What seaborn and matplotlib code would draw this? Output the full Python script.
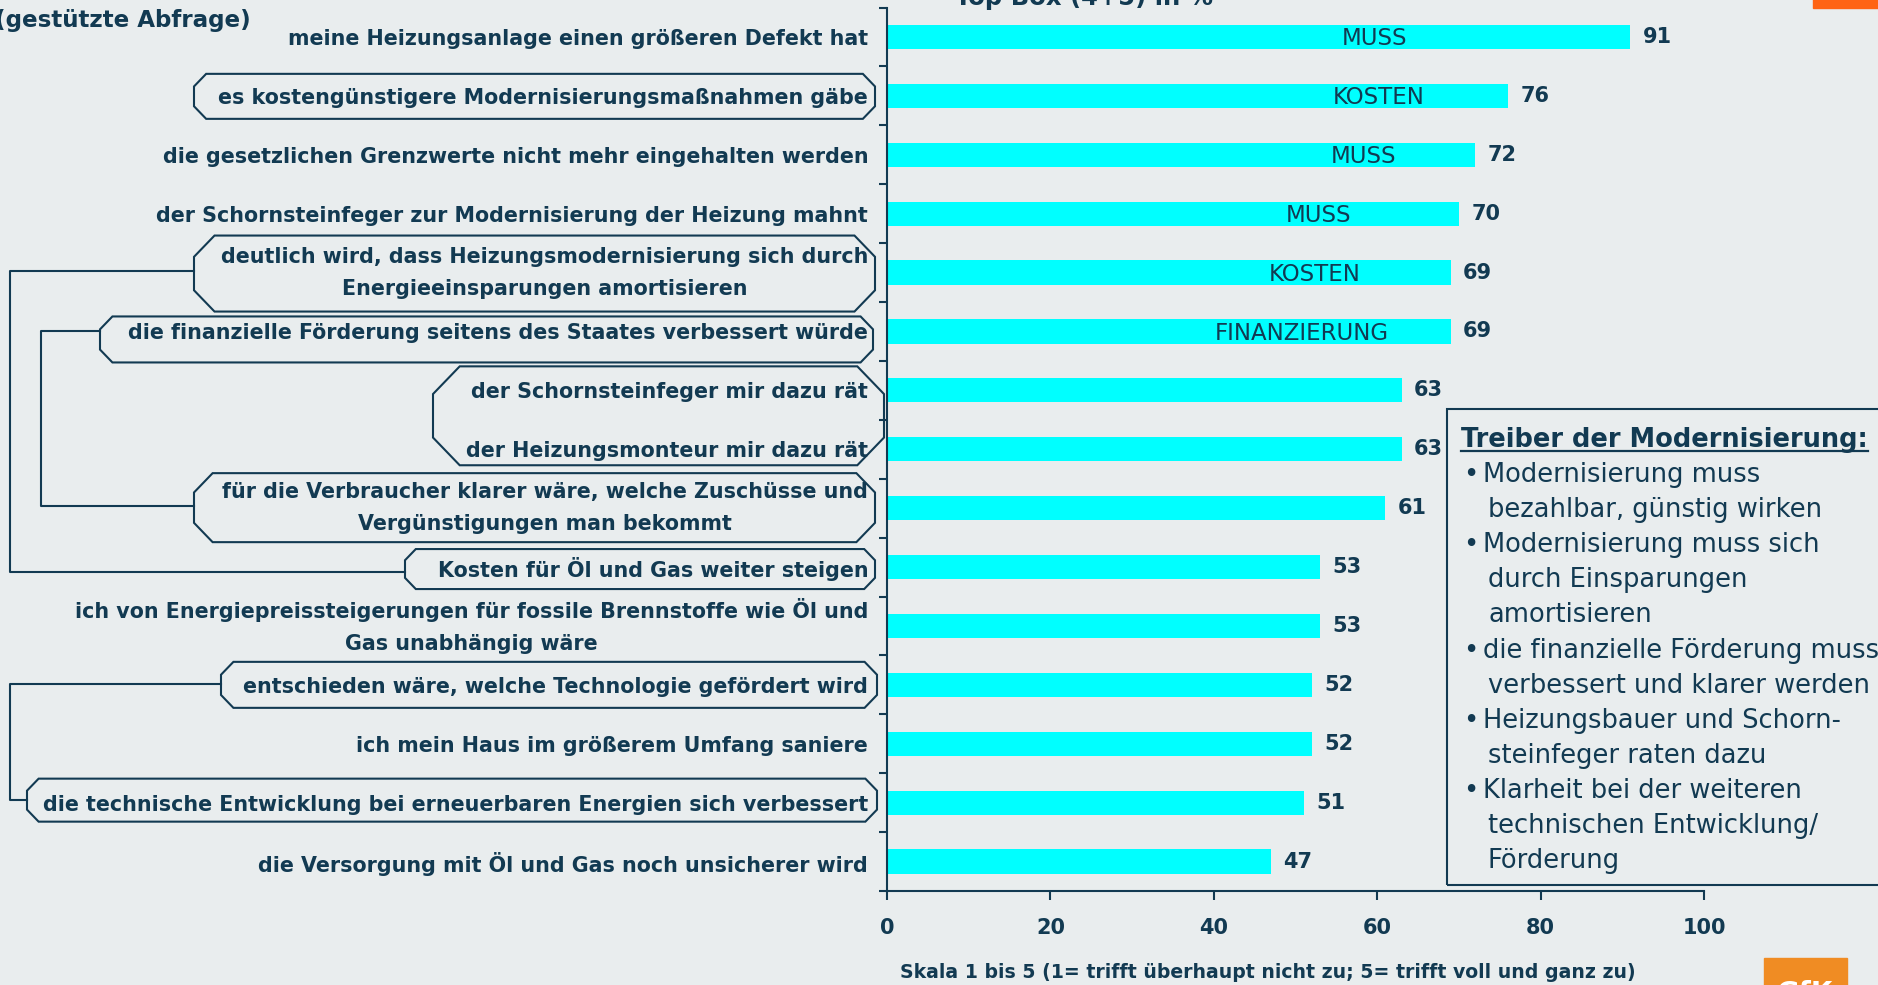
import numpy as np
import pandas as pd
import matplotlib
matplotlib.use('Agg')
import matplotlib.pyplot as plt
import seaborn as sns
from matplotlib.patches import Polygon, Rectangle
from matplotlib.lines import Line2D
from matplotlib.transforms import IdentityTransform

# data (Top Box 4+5 in %)
labels = [
    "meine Heizungsanlage einen größeren Defekt hat",
    "es kostengünstigere Modernisierungsmaßnahmen gäbe",
    "die gesetzlichen Grenzwerte nicht mehr eingehalten werden",
    "der Schornsteinfeger zur Modernisierung der Heizung mahnt",
    "deutlich wird, dass Heizungsmodernisierung sich durch\nEnergieeinsparungen amortisieren",
    "die finanzielle Förderung seitens des Staates verbessert würde",
    "der Schornsteinfeger mir dazu rät",
    "der Heizungsmonteur mir dazu rät",
    "für die Verbraucher klarer wäre, welche Zuschüsse und\nVergünstigungen man bekommt",
    "Kosten für Öl und Gas weiter steigen",
    "ich von Energiepreissteigerungen für fossile Brennstoffe wie Öl und\nGas unabhängig wäre",
    "entschieden wäre, welche Technologie gefördert wird",
    "ich mein Haus im größerem Umfang saniere",
    "die technische Entwicklung bei erneuerbaren Energien sich verbessert",
    "die Versorgung mit Öl und Gas noch unsicherer wird",
]
values = [91, 76, 72, 70, 69, 69, 63, 63, 61, 53, 53, 52, 52, 51, 47]

bar_tags = ["MUSS", "KOSTEN", "MUSS", "MUSS", "KOSTEN", "FINANZIERUNG"]
tag_x = [59.7, 60.2, 58.3, 52.8, 52.4, 50.8]

box_title = "Treiber der Modernisierung:"
box_lines = [
    (True, "Modernisierung muss"),
    (False, "bezahlbar, günstig wirken"),
    (True, "Modernisierung muss sich"),
    (False, "durch Einsparungen"),
    (False, "amortisieren"),
    (True, "die finanzielle Förderung muss"),
    (False, "verbessert und klarer werden"),
    (True, "Heizungsbauer und Schorn-"),
    (False, "steinfeger raten dazu"),
    (True, "Klarheit bei der weiteren"),
    (False, "technischen Entwicklung/"),
    (False, "Förderung"),
]

df = pd.DataFrame({'label': labels, 'value': values})

BG = '#E9EDEE'
NAVY = '#123A52'
CYAN = '#00FFFF'
W, H = 1878, 985
ID = IdentityTransform()

plt.rcParams['font.family'] = 'DejaVu Sans'
plt.rcParams['text.color'] = NAVY

fig = plt.figure(figsize=(W / 100, H / 100), dpi=100, facecolor=BG)
ax = fig.add_axes([887 / W, 94 / H, 817 / W, 883.5 / H])
ax.set_facecolor(BG)

sns.barplot(data=df, x='value', y='label', orient='h', color=CYAN,
            saturation=1, width=0.41, ax=ax)

ax.set_xlim(0, 100)
ax.set_ylim(14.5, -0.5)
ax.set_xlabel('')
ax.set_ylabel('')
ax.set_xticks(range(0, 101, 20))
for s in ['top', 'right']:
    ax.spines[s].set_visible(False)
for s in ['left', 'bottom']:
    ax.spines[s].set_color(NAVY)
    ax.spines[s].set_linewidth(1.5)

ax.tick_params(axis='x', length=6.5, width=1.5, color=NAVY, pad=13,
               labelsize=15, labelcolor=NAVY)
for t in ax.get_xticklabels():
    t.set_fontweight('bold')
ax.tick_params(axis='y', which='major', length=0, pad=13.5,
               labelsize=14.9, labelcolor=NAVY)
ax.set_yticks(np.arange(-0.5, 15, 1), minor=True)
ax.tick_params(axis='y', which='minor', length=6, width=1.5, color=NAVY)
for t in ax.get_yticklabels():
    t.set_fontweight('bold')
    t.set_multialignment('center')
    t.set_linespacing(1.75)
    if '\n' in t.get_text():
        t.set_verticalalignment('center')

ax.bar_label(ax.containers[0], padding=9, fontsize=15, fontweight='bold', color=NAVY)

for i, (tag, xt) in enumerate(zip(bar_tags, tag_x)):
    ax.text(xt, i + 0.03, tag, ha='center', va='center', fontsize=16.5, color=NAVY)


def row_y(r):
    # pixel y (from top) of a category row
    return H - ax.transData.transform((0, r))[1]


def P(x, y):
    return (x, H - y)


# callout boxes round some labels: (left, right, top row, up, bottom row, down)
boxes = [
    (194, 875, 1, 22, 1, 23),
    (194, 875, 4, 37, 4, 39),
    (100, 873, 5, 15, 5, 31),
    (433, 884, 6, 24, 7, 16),
    (194, 875, 8, 35, 8, 34),
    (405, 875, 9, 18, 9, 22),
    (221, 877, 11, 23, 11, 23),
    (27, 877, 13, 24, 13, 19),
]
for L, R, r0, up, r1, dn in boxes:
    top = row_y(r0) - up
    bot = row_y(r1) + dn
    h = bot - top
    cx, cy = 0.27 * h, 0.28 * h
    pts = [P(L + cx, top), P(R - cx, top), P(R, top + cy), P(R, bot - cy),
           P(R - cx, bot), P(L + cx, bot), P(L, bot - cy), P(L, top + cy)]
    fig.add_artist(Polygon(pts, closed=True, fill=False, edgecolor=NAVY,
                           lw=1.5, transform=ID))

# brackets linking related boxes
links = [
    (10, 4, -2, 194, 9, 5, 405),
    (41, 5, 0, 100, 8, -2, 194),
    (10, 11, -1, 221, 13, -3, 27),
]
for xb, ra, da, xa, rb, db, xe in links:
    ya = row_y(ra) + da
    yb = row_y(rb) + db
    xs = [xa, xb, xb, xe]
    ys = [H - ya, H - ya, H - yb, H - yb]
    fig.add_artist(Line2D(xs, ys, color=NAVY, lw=1.5, transform=ID))

# right text box
fig.add_artist(Rectangle(P(1447, 885), 500, 476, fill=False, edgecolor=NAVY,
                         lw=1.5, transform=ID))
title = fig.text(*P(1461, 447), box_title, transform=ID, fontsize=18.5,
                 fontweight='bold', va='baseline', color=NAVY)
for k, (bullet, line) in enumerate(box_lines):
    yb = 482 + k * 35.1
    if bullet:
        fig.text(*P(1463, yb), "•", transform=ID, fontsize=18.5, va='baseline', color=NAVY)
        fig.text(*P(1483, yb), line, transform=ID, fontsize=18.5, va='baseline', color=NAVY)
    else:
        fig.text(*P(1488, yb), line, transform=ID, fontsize=18.5, va='baseline', color=NAVY)

fig.canvas.draw()
bb = title.get_window_extent(fig.canvas.get_renderer())
fig.add_artist(Line2D([bb.x0, bb.x1], [H - 451, H - 451], color=NAVY, lw=1.6, transform=ID))

# header / footer texts
fig.text(*P(-5, 27), "(gestützte Abfrage)", transform=ID, fontsize=16.6,
         fontweight='bold', va='baseline', color=NAVY)
fig.text(*P(955, 5), "Top Box (4+5) in %", transform=ID, fontsize=17.5,
         fontweight='bold', va='baseline', color=NAVY)
fig.text(*P(900, 973), "Skala 1 bis 5 (1= trifft überhaupt nicht zu; 5= trifft voll und ganz zu)",
         transform=ID, fontsize=13.6, fontweight='bold', va='center', color=NAVY)

# logo corners
fig.add_artist(Rectangle(P(1813, 8), 70, 10, color='#FF6414', transform=ID))
fig.add_artist(Rectangle(P(1764, 990), 83, 32, color='#F08C23', transform=ID))
fig.text(*P(1805, 980), "GfK", transform=ID, fontsize=20, fontweight='bold',
         color='white', ha='center', va='top')

fig.savefig('out.png', dpi=100, facecolor=BG)
